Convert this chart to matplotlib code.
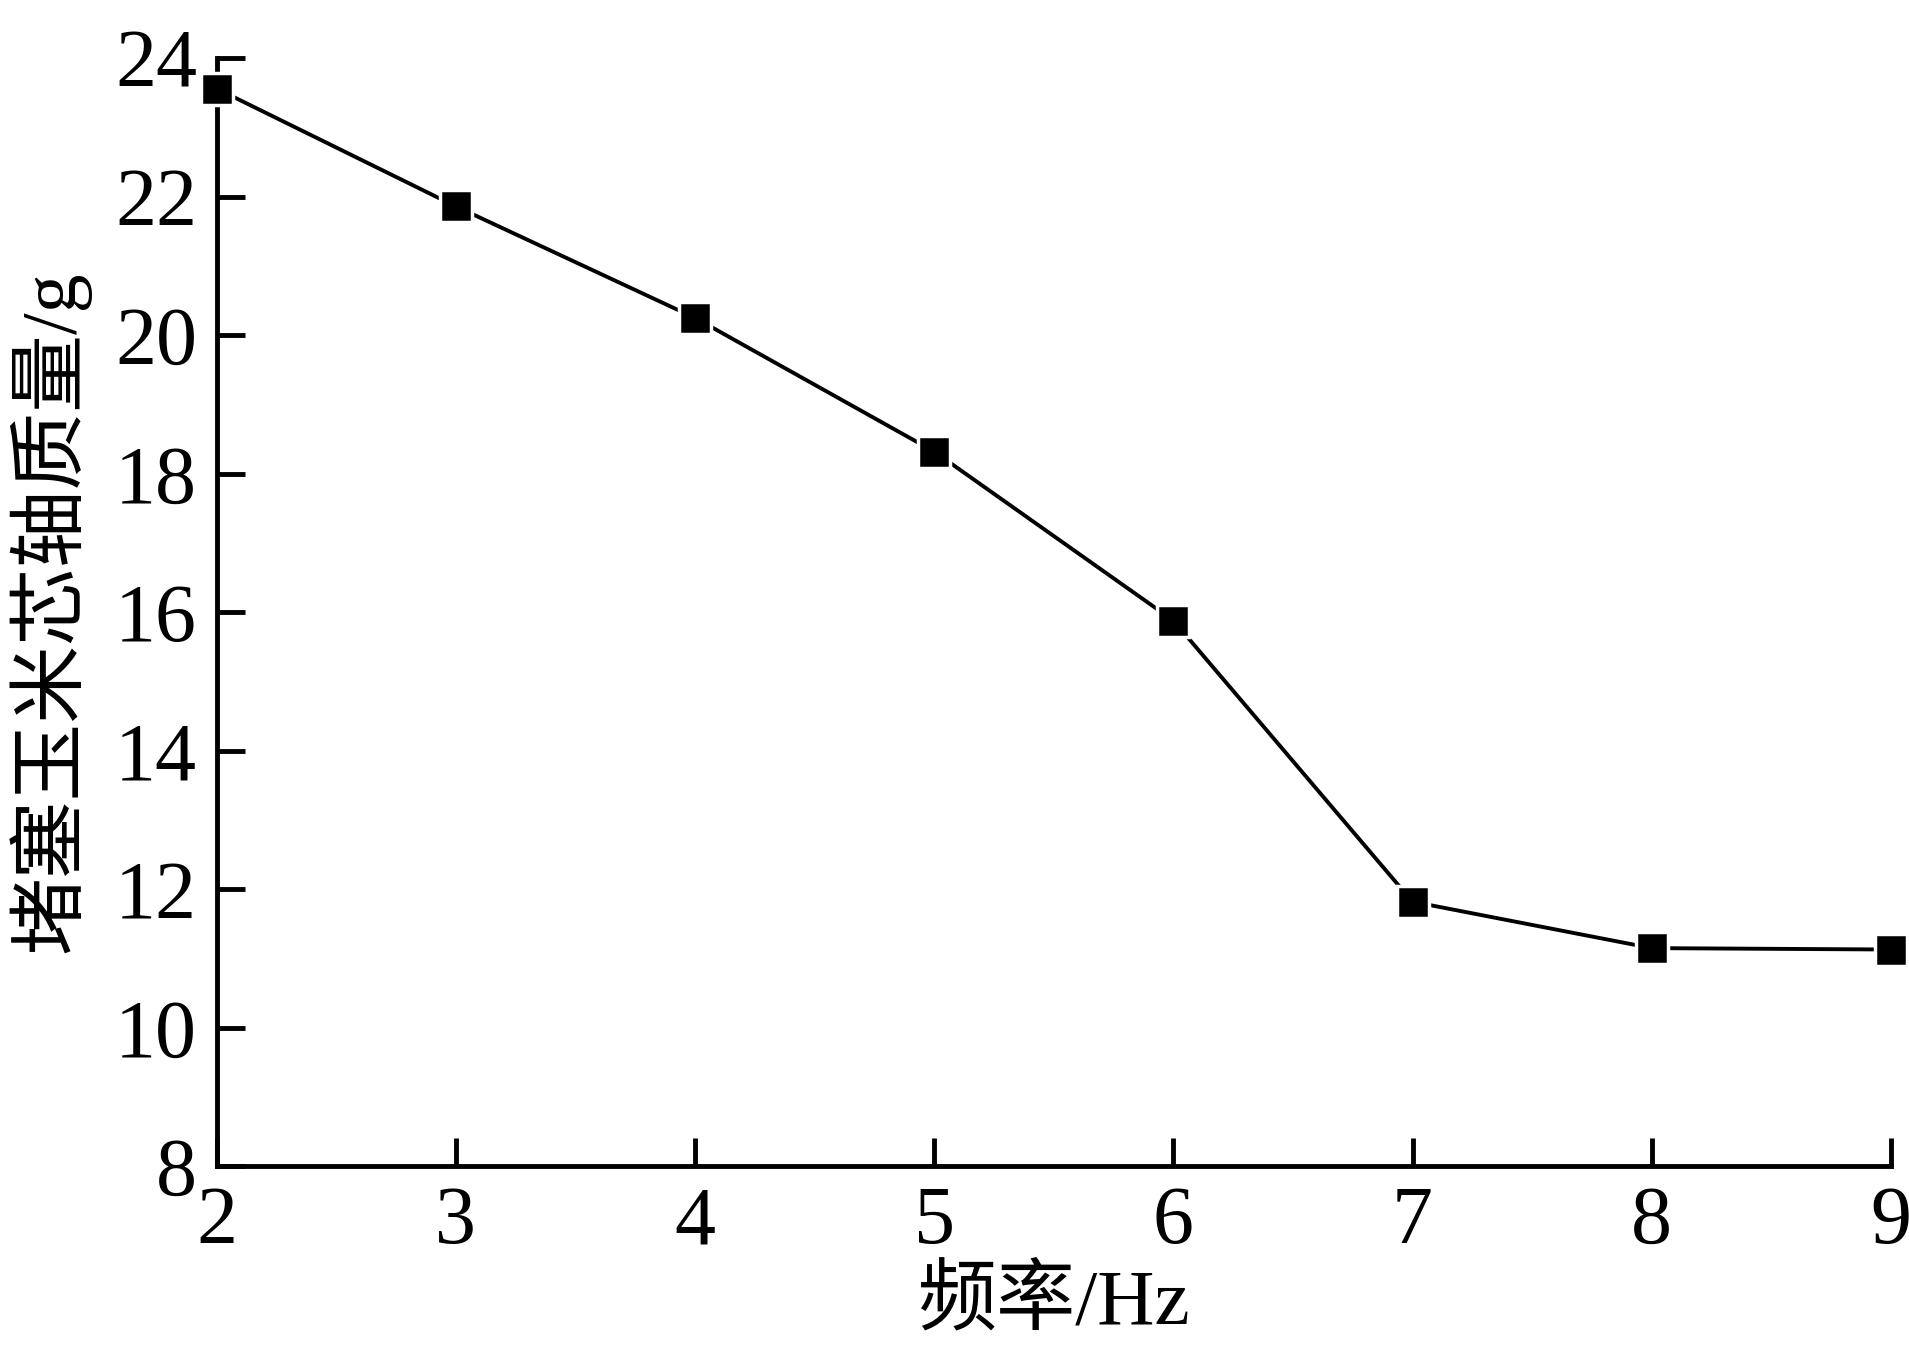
import matplotlib.pyplot as plt

freq = [2, 3, 4, 5, 6, 7, 8, 9]
mass = [23.56, 21.86, 20.25, 18.32, 15.88, 11.82, 11.15, 11.13]
xticks = [2, 3, 4, 5, 6, 7, 8, 9]
yticks = [8, 10, 12, 14, 16, 18, 20, 22, 24]

plt.rcParams['font.family'] = ['Liberation Serif', 'Noto Sans CJK SC']

fig = plt.figure(figsize=(19.09, 13.53), dpi=100)
ax = fig.add_axes([0.1135, 0.138, 0.877, 0.819])

ax.plot(freq, mass, color='black', linewidth=2.8, marker='s', markersize=23,
        markerfacecolor='black', markeredgecolor='white', markeredgewidth=2.5,
        clip_on=False, zorder=3)

ax.set_xlim(2, 9)
ax.set_ylim(8, 24)
ax.set_xticks(xticks)
ax.set_yticks(yticks)

for s in ['top', 'right']:
    ax.spines[s].set_visible(False)
for s in ['left', 'bottom']:
    ax.spines[s].set_linewidth(3.5)

ax.tick_params(axis='both', direction='in', length=20, width=3.5, labelsize=59)
ax.tick_params(axis='x', pad=14)
ax.tick_params(axis='y', pad=14)

ax.set_xlabel('频率/Hz', fontsize=57, labelpad=4)
ax.set_ylabel('堵塞玉米芯轴质量/g', fontsize=56, labelpad=18)

plt.savefig('out.png', dpi=100)
plt.close()
